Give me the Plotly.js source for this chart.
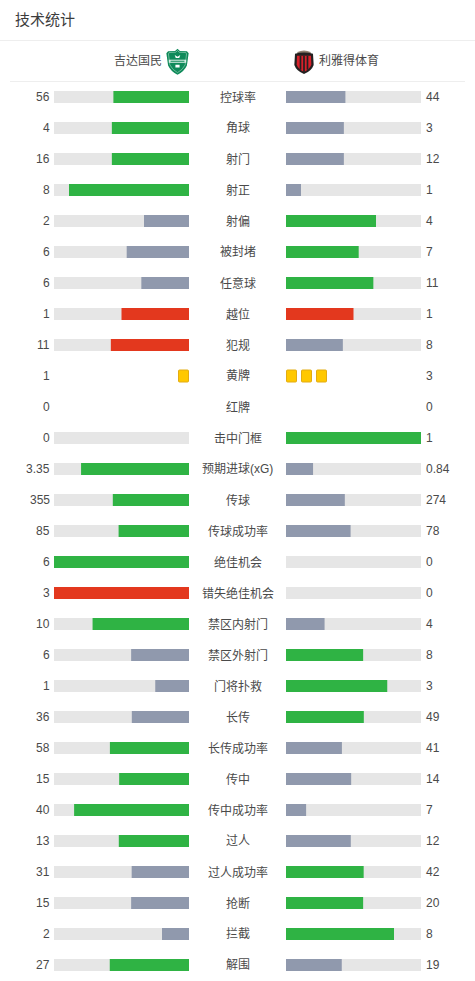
<!DOCTYPE html>
<html><head><meta charset="utf-8">
<script src="https://cdn.plot.ly/plotly-3.0.1.min.js"></script>
<style>html,body{margin:0;padding:0;background:#fff}#c{width:475px;height:981px}</style>
</head><body><div id="c"></div>
<script>
const categories=["控球率","角球","射门","射正","射偏","被封堵","任意球","越位","犯规","黄牌","红牌","击中门框","预期进球(xG)","传球","传球成功率","绝佳机会","错失绝佳机会","禁区内射门","禁区外射门","门将扑救","长传","长传成功率","传中","传中成功率","过人","过人成功率","抢断","拦截","解围"];
const homeValues=[56,4,16,8,2,6,6,1,11,1,0,0,3.35,355,85,6,3,10,6,1,36,58,15,40,13,31,15,2,27];
const awayValues=[44,3,12,1,4,7,11,1,8,3,0,1,0.84,274,78,0,0,4,8,3,49,41,14,7,12,42,20,8,19];
const cardRows=["黄牌","红牌"];
const negativeRows=["越位","犯规","错失绝佳机会"];
const homeName="吉达国民", awayName="利雅得体育", heading="技术统计";
const GREEN="#2fb344",GRAY="#9099ad",RED="#e3381e",TRACK="#e6e6e6",YELLOW="#ffc800",INK="#4a4a4a";
const FONT='"Liberation Sans","Noto Sans CJK SC",sans-serif';

const W=475,H=981,ROW0=97,STEP=31;
const isCard=c=>cardRows.includes(c);
const share=(a,b)=>a+b>0?100*a/(a+b):0;
const colour=(c,a,b)=>a>=b?(negativeRows.includes(c)?RED:GREEN):GRAY;
const barRows=categories.map((c,i)=>i).filter(i=>!isCard(categories[i]));
function track(ax){return{type:'bar',orientation:'h',x:barRows.map(()=>100),y:barRows.map(i=>categories[i]),xaxis:ax,yaxis:'y',width:12/STEP,marker:{color:TRACK},hoverinfo:'skip'};}
function fill(ax,mine,other){return{type:'bar',orientation:'h',x:barRows.map(i=>share(mine[i],other[i])),y:barRows.map(i=>categories[i]),xaxis:ax,yaxis:'y',width:12/STEP,marker:{color:barRows.map(i=>colour(categories[i],mine[i],other[i]))},hoverinfo:'skip'};}
function cards(ax,count){
  const x=[],y=[],base=[];
  for(let k=0;k<count;k++){x.push(10/135*100);y.push("黄牌");base.push((k*15+0.5)/135*100);}
  return{type:'bar',orientation:'h',x,y,base,xaxis:ax,yaxis:'y',width:12/STEP,marker:{color:YELLOW,line:{color:'#e3ac12',width:1},cornerradius:1},hoverinfo:'skip'};
}
const yi=categories.indexOf("黄牌");
const data=[track('x'),fill('x',homeValues,awayValues),cards('x',homeValues[yi]),
            track('x2'),fill('x2',awayValues,homeValues),cards('x2',awayValues[yi])];
const txt=(x,y,t,anchor,size,color)=>({xref:'paper',yref:y.ref||'paper',x:x/W,y:y.v,text:t,showarrow:false,xanchor:anchor,yanchor:'middle',font:{family:FONT,size:size||12,color:color||INK}});
const annotations=[];
categories.forEach((c,i)=>{
  annotations.push(txt(237.5,{ref:'y',v:c},c,'center'));
  annotations.push(txt(52,{ref:'y',v:c},String(homeValues[i]),'right'));
  annotations.push(txt(424,{ref:'y',v:c},String(awayValues[i]),'left'));
});
annotations.push(txt(13,{v:1-20/H},heading,'left',15,'#3c3c3c'));
annotations.push(txt(164,{v:1-61/H},homeName,'right',12,INK));
annotations.push(txt(317,{v:1-61/H},awayName,'left',12,INK));
const svg=s=>'data:image/svg+xml;charset=utf-8,'+encodeURIComponent(s);
const homeLogo=svg(`<svg xmlns="http://www.w3.org/2000/svg" width="66" height="78" viewBox="0 0 66 78"><path d="M33 1 L40 7 L60 8 L65 14 L60 50 Q52 68 33 77 Q14 68 6 50 L1 14 L6 8 L26 7 Z" fill="#0f8a5a"/><path d="M33 6 L38 11 L57 12 L59 16 L55 48 Q48 63 33 71 Q18 63 11 48 L7 16 L9 12 L28 11 Z" fill="none" stroke="#bfe3d3" stroke-width="1.5"/><rect x="8" y="33" width="50" height="9" fill="#d8efe5"/><rect x="13" y="36" width="40" height="3" fill="#0f8a5a"/><path d="M25 19 L33 24 L41 19 L38 28 L28 28 Z M27 48 H39 V56 H27 Z" fill="#fff"/></svg>`);
const awayLogo=svg(`<svg xmlns="http://www.w3.org/2000/svg" width="60" height="75" viewBox="0 0 60 75"><path d="M10 9 Q30 0 50 9 L50 16 H10 Z" fill="#8f8171"/><path d="M3 14 Q30 7 57 14 L59 48 Q53 66 30 75 Q7 66 1 48 Z" fill="#232020"/><path d="M9 20 H51 L52 47 Q47 60 30 69 Q13 60 8 47 Z" fill="#d8202a"/><path d="M17 20 H22 V62 H17 Z M27.500 20 H32.500 V69 H27.500 Z M38 20 H43 V62 H38 Z" fill="#232020"/></svg>`);
const images=[
  {source:homeLogo,xref:'paper',yref:'paper',x:166/W,y:1-48.5/H,sizex:23/W,sizey:26.5/H,xanchor:'left',yanchor:'top',sizing:'stretch',layer:'above'},
  {source:awayLogo,xref:'paper',yref:'paper',x:294/W,y:1-49/H,sizex:20/W,sizey:25/H,xanchor:'left',yanchor:'top',sizing:'stretch',layer:'above'}
];
const rule=(x0,x1,y)=>({type:'line',xref:'paper',yref:'paper',x0:x0/W,x1:x1/W,y0:1-y/H,y1:1-y/H,line:{color:'#eeeeee',width:1}});
const hidden={showgrid:false,zeroline:false,showticklabels:false,ticks:'',showline:false,fixedrange:true};
const layout={
  width:W,height:H,margin:{l:0,r:0,t:0,b:0},paper_bgcolor:'#fff',plot_bgcolor:'#fff',
  barmode:'overlay',showlegend:false,font:{family:FONT},
  xaxis:{...hidden,domain:[54/W,189/W],range:[100,0]},
  xaxis2:{...hidden,domain:[286/W,421/W],range:[0,100],anchor:'y'},
  yaxis:{...hidden,domain:[0,1],type:'category',categoryorder:'array',categoryarray:categories,range:[(H-ROW0)/STEP,-ROW0/STEP]},
  annotations,images,shapes:[rule(0,475,40.5),rule(10,465,81.5)]
};
Plotly.newPlot('c',data,layout,{displayModeBar:false,staticPlot:true});
</script></body></html>
